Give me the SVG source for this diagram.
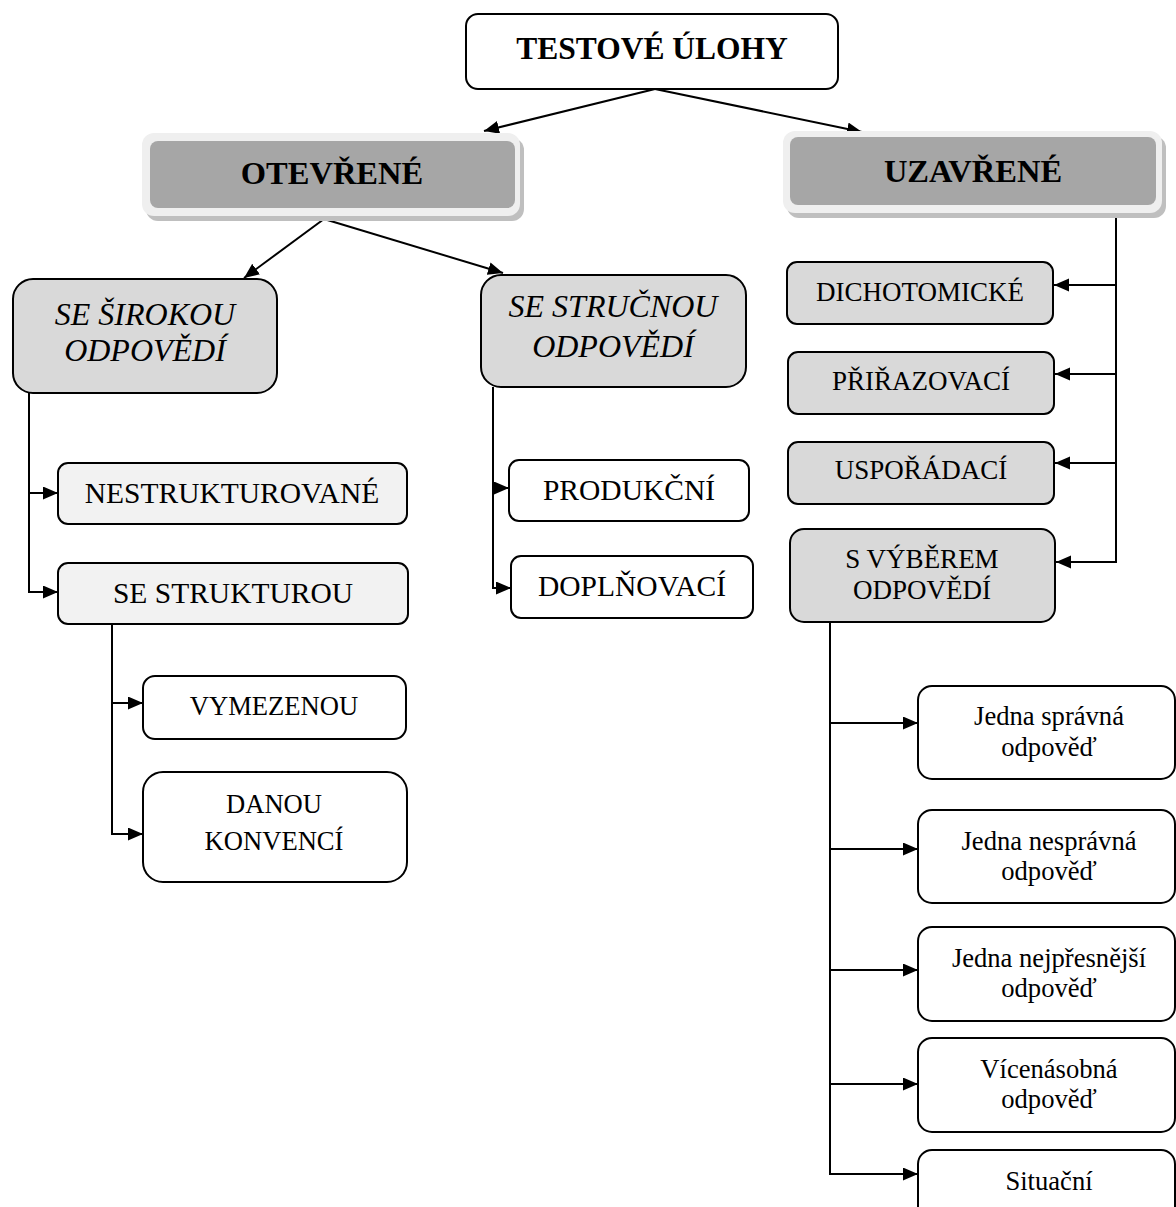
<svg xmlns="http://www.w3.org/2000/svg" width="1176" height="1207" viewBox="0 0 1176 1207">
<defs>
<marker id="arr" markerUnits="userSpaceOnUse" markerWidth="16" markerHeight="14" refX="15" refY="6.5" orient="auto">
<path d="M0,0 L15,6.5 L0,13 z" fill="#000"/>
</marker>
</defs>
<style>
text{font-family:"Liberation Serif","Times New Roman",serif;fill:#000;text-anchor:middle}
.box{stroke:#000;stroke-width:2}
.w{fill:#fff}
.g{fill:#d9d9d9}
.l{fill:#f2f2f2}
.b{font-weight:bold;font-size:32.5px}
.it{font-style:italic;font-size:32px}
.m{font-size:29.5px}
.r{font-size:27px}
.s{font-size:26.6px}
.c{fill:none;stroke:#000;stroke-width:2}
</style>
<rect width="1176" height="1207" fill="#fff"/>
<g id="connectors">
<path class="c" d="M655,89 L484,131" marker-end="url(#arr)"/>
<path class="c" d="M655,89 L862,132" marker-end="url(#arr)"/>
<path class="c" d="M324,219 L244,278" marker-end="url(#arr)"/>
<path class="c" d="M324,219 L503,273" marker-end="url(#arr)"/>
<path class="c" d="M29,393 V593"/>
<path class="c" d="M29,493 H58" marker-end="url(#arr)"/>
<path class="c" d="M29,592 H58" marker-end="url(#arr)"/>
<path class="c" d="M493,387 V589"/>
<path class="c" d="M493,488 H509" marker-end="url(#arr)"/>
<path class="c" d="M493,588 H511" marker-end="url(#arr)"/>
<path class="c" d="M112,624 V835"/>
<path class="c" d="M112,703 H143" marker-end="url(#arr)"/>
<path class="c" d="M112,834 H143" marker-end="url(#arr)"/>
<path class="c" d="M1116,214 V563"/>
<path class="c" d="M1116,285 H1054" marker-end="url(#arr)"/>
<path class="c" d="M1116,374 H1055" marker-end="url(#arr)"/>
<path class="c" d="M1116,463 H1055" marker-end="url(#arr)"/>
<path class="c" d="M1116,562 H1056" marker-end="url(#arr)"/>
<path class="c" d="M830,622 V1175"/>
<path class="c" d="M830,723 H918" marker-end="url(#arr)"/>
<path class="c" d="M830,849 H918" marker-end="url(#arr)"/>
<path class="c" d="M830,970 H918" marker-end="url(#arr)"/>
<path class="c" d="M830,1084 H918" marker-end="url(#arr)"/>
<path class="c" d="M830,1174 H918" marker-end="url(#arr)"/>
</g>
<g id="testove">
<rect class="box w" x="466" y="14" width="372" height="75" rx="12"/>
<text class="b" x="652" y="59" style="font-size:31.5px">TESTOVÉ ÚLOHY</text>
</g>
<g id="otevrene">
<rect x="146" y="138" width="378" height="83" rx="12" fill="#bfbfbf"/>
<rect x="142" y="133" width="378" height="83" rx="12" fill="#efefef"/>
<rect x="150" y="141" width="365" height="67" rx="8" fill="#a6a6a6"/>
<text class="b" x="332" y="184">OTEVŘENÉ</text>
</g>
<g id="uzavrene">
<rect class="" x="787" y="136" width="379" height="82" rx="12" fill="#bfbfbf"/>
<rect x="783" y="131" width="379" height="82" rx="12" fill="#efefef"/>
<rect x="790" y="137" width="366" height="68" rx="8" fill="#a6a6a6"/>
<text class="b" x="973" y="182">UZAVŘENÉ</text>
</g>
<g id="siroka">
<rect class="box g" x="13" y="279" width="264" height="114" rx="20"/>
<text class="it" x="145" y="325">SE ŠIROKOU</text>
<text class="it" x="145" y="361">ODPOVĚDÍ</text>
</g>
<g id="strucna">
<rect class="box g" x="481" y="275" width="265" height="112" rx="20"/>
<text class="it" x="613" y="317">SE STRUČNOU</text>
<text class="it" x="613" y="357">ODPOVĚDÍ</text>
</g>
<g id="nestrukturovane">
<rect class="box l" x="58" y="463" width="349" height="61" rx="10"/>
<text class="m" x="232" y="503">NESTRUKTUROVANÉ</text>
</g>
<g id="sestrukturou">
<rect class="box l" x="58" y="563" width="350" height="61" rx="10"/>
<text class="m" x="233" y="603">SE STRUKTUROU</text>
</g>
<g id="vymezenou">
<rect class="box w" x="143" y="676" width="263" height="63" rx="12"/>
<text class="s" x="274" y="715">VYMEZENOU</text>
</g>
<g id="danou">
<rect class="box w" x="143" y="772" width="264" height="110" rx="20"/>
<text class="s" x="274" y="813">DANOU</text>
<text class="s" x="274" y="850">KONVENCÍ</text>
</g>
<g id="produkcni">
<rect class="box w" x="509" y="460" width="240" height="61" rx="10"/>
<text class="m" x="629" y="500">PRODUKČNÍ</text>
</g>
<g id="doplnovaci">
<rect class="box w" x="511" y="556" width="242" height="62" rx="10"/>
<text class="m" x="632" y="596">DOPLŇOVACÍ</text>
</g>
<g id="dichotomicke">
<rect class="box g" x="787" y="262" width="266" height="62" rx="10"/>
<text class="r" x="920" y="301">DICHOTOMICKÉ</text>
</g>
<g id="prirazovaci">
<rect class="box g" x="788" y="352" width="266" height="62" rx="10"/>
<text class="r" x="921" y="390">PŘIŘAZOVACÍ</text>
</g>
<g id="usporadaci">
<rect class="box g" x="788" y="442" width="266" height="62" rx="10"/>
<text class="r" x="921" y="479">USPOŘÁDACÍ</text>
</g>
<g id="svyberem">
<rect class="box g" x="790" y="529" width="265" height="93" rx="14"/>
<text class="r" x="922" y="568">S VÝBĚREM</text>
<text class="r" x="922" y="599">ODPOVĚDÍ</text>
</g>
<g id="jedna-spravna">
<rect class="box w" x="918" y="686" width="257" height="93" rx="14"/>
<text class="s" x="1049" y="725">Jedna správná</text>
<text class="s" x="1049" y="756">odpověď</text>
</g>
<g id="jedna-nespravna">
<rect class="box w" x="918" y="810" width="257" height="93" rx="14"/>
<text class="s" x="1049" y="850">Jedna nesprávná</text>
<text class="s" x="1049" y="880">odpověď</text>
</g>
<g id="jedna-nejpresnejsi">
<rect class="box w" x="918" y="927" width="257" height="94" rx="14"/>
<text class="s" x="1049" y="967">Jedna nejpřesnější</text>
<text class="s" x="1049" y="997">odpověď</text>
</g>
<g id="vicenasobna">
<rect class="box w" x="918" y="1038" width="257" height="94" rx="14"/>
<text class="s" x="1049" y="1078">Vícenásobná</text>
<text class="s" x="1049" y="1108">odpověď</text>
</g>
<g id="situacni">
<rect class="box w" x="918" y="1150" width="257" height="90" rx="14"/>
<text class="s" x="1049" y="1190">Situační</text>
</g>
</svg>
